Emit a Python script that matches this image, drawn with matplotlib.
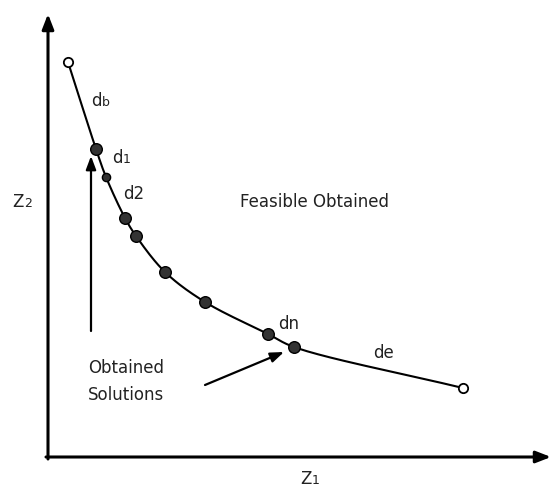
import matplotlib
matplotlib.use("Agg")
import matplotlib.pyplot as plt
import numpy as np

# Pareto front points (diagram pixel-space coordinates, y downwards)
front_x = [68, 96, 106, 125, 136, 165, 205, 268, 294, 463]
front_y = [62, 149, 177, 218, 236, 272, 302, 334, 347, 388]
filled_x = [96, 125, 136, 165, 205, 268, 294]
filled_y = [149, 218, 236, 272, 302, 334, 347]
small_x = [106]
small_y = [177]
open_x = [68, 463]
open_y = [62, 388]

fig = plt.figure(figsize=(5.51, 4.88), dpi=100)
ax = fig.add_axes([0, 0, 1, 1])
ax.set_xlim(0, 551)
ax.set_ylim(488, 0)
ax.axis("off")

# smooth curve via centripetal Catmull-Rom
P = np.array(list(zip(front_x, front_y)), dtype=float)
ext = np.vstack([P[0] - (P[1] - P[0]), P, P[-1] + (P[-1] - P[-2])])
pts = []
for i in range(1, len(ext) - 2):
    p0, p1, p2, p3 = ext[i - 1], ext[i], ext[i + 1], ext[i + 2]
    def tj(ti, a, b):
        return ti + np.linalg.norm(b - a) ** 0.5
    t0 = 0.0
    t1 = tj(t0, p0, p1)
    t2 = tj(t1, p1, p2)
    t3 = tj(t2, p2, p3)
    for t in np.linspace(t1, t2, 25, endpoint=False):
        a1 = (t1 - t) / (t1 - t0) * p0 + (t - t0) / (t1 - t0) * p1
        a2 = (t2 - t) / (t2 - t1) * p1 + (t - t1) / (t2 - t1) * p2
        a3 = (t3 - t) / (t3 - t2) * p2 + (t - t2) / (t3 - t2) * p3
        b1 = (t2 - t) / (t2 - t0) * a1 + (t - t0) / (t2 - t0) * a2
        b2 = (t3 - t) / (t3 - t1) * a2 + (t - t1) / (t3 - t1) * a3
        pts.append((t2 - t) / (t2 - t1) * b1 + (t - t1) / (t2 - t1) * b2)
pts.append(P[-1])
pts = np.array(pts)
ax.plot(pts[:, 0], pts[:, 1], color="black", lw=1.5, zorder=2)

ax.scatter(filled_x, filled_y, s=70, color="#333333", edgecolor="black", lw=1, zorder=3)
ax.scatter(small_x, small_y, s=35, color="#333333", edgecolor="black", lw=1, zorder=3)
ax.scatter(open_x, open_y, s=45, color="white", edgecolor="black", lw=1.3, zorder=3)

arrow = dict(arrowstyle="-|>,head_length=0.9,head_width=0.35", color="black", lw=2.2,
             shrinkA=0, shrinkB=0)
# axes
ax.annotate("", xy=(48, 14), xytext=(48, 459), arrowprops=arrow)
ax.annotate("", xy=(551, 457), xytext=(46, 457), arrowprops=arrow)
# pointers
ax.annotate("", xy=(91, 156), xytext=(91, 331),
            arrowprops=dict(arrowstyle="-|>,head_length=0.8,head_width=0.3", color="black",
                            lw=1.6, shrinkA=0, shrinkB=0))
ax.annotate("", xy=(284, 352), xytext=(205, 385),
            arrowprops=dict(arrowstyle="-|>,head_length=0.8,head_width=0.3", color="black",
                            lw=1.6, shrinkA=0, shrinkB=0))

fs = 12.0
col = "#222222"

def sublabel(x, y, main, sub):
    t = ax.text(x, y, main, fontsize=fs, color=col, ha="left", va="baseline")
    fig.canvas.draw()
    bb = t.get_window_extent()
    inv = ax.transData.inverted()
    xr = inv.transform((bb.x1, bb.y0))[0]
    ax.text(xr + 0.5, y, sub, fontsize=fs * 0.75, color=col, ha="left", va="baseline")

sublabel(91, 106, "d", "b")
sublabel(112, 163, "d", "1")
ax.text(123, 199, "d2", fontsize=fs, color=col, ha="left", va="baseline")
sublabel(12, 207, "Z", "2")
sublabel(300, 484, "Z", "1")
ax.text(278, 329, "dn", fontsize=fs, color=col, ha="left", va="baseline")
ax.text(373, 358, "de", fontsize=fs, color=col, ha="left", va="baseline")
ax.text(240, 207, "Feasible Obtained", fontsize=fs, color=col, ha="left", va="baseline")
ax.text(88, 373, "Obtained", fontsize=fs, color=col, ha="left", va="baseline")
ax.text(88, 400, "Solutions", fontsize=fs, color=col, ha="left", va="baseline")

fig.savefig("out.png", dpi=100)
